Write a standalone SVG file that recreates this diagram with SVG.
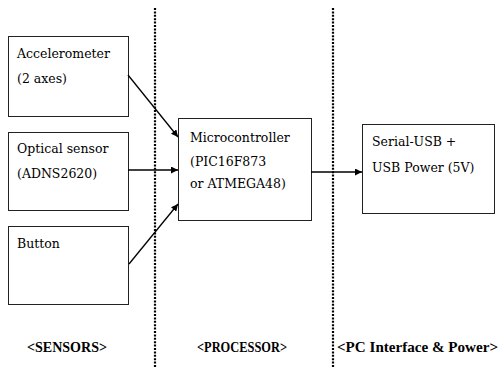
<svg xmlns="http://www.w3.org/2000/svg" width="503" height="367" viewBox="0 0 503 367">
<defs>
<style>
.box{fill:#fff;stroke:#222;stroke-width:1}
.t{font-family:"DejaVu Serif","Liberation Serif",serif;font-size:12.5px;fill:#000}
.lbl{font-family:"Liberation Serif",serif;font-size:14px;font-weight:bold;fill:#000}
.div{stroke:#000;stroke-width:2.2;stroke-dasharray:2 1.4}
.c{stroke:#000;stroke-width:1.3;fill:none;marker-end:url(#ah)}
</style>
<marker id="ah" viewBox="0 0 10 10" refX="10" refY="5" markerWidth="7" markerHeight="7" orient="auto" markerUnits="userSpaceOnUse">
<path d="M0,0 L10,5 L0,10 z" fill="#000"/>
</marker>
</defs>
<rect width="503" height="367" fill="#fff"/>
<g id="dividers">
<line class="div" x1="155" y1="8" x2="155" y2="367"/>
<line class="div" x1="333" y1="8" x2="333" y2="367"/>
</g>
<g id="accelerometer">
<rect class="box" x="8.5" y="36.5" width="120" height="80"/>
<text class="t" x="17" y="58">Accelerometer</text>
<text class="t" x="17" y="83">(2 axes)</text>
</g>
<g id="optical">
<rect class="box" x="8.5" y="132.5" width="120" height="78"/>
<text class="t" x="17" y="153">Optical sensor</text>
<text class="t" x="17" y="178">(ADNS2620)</text>
</g>
<g id="button">
<rect class="box" x="8.5" y="226.5" width="120" height="78"/>
<text class="t" x="17" y="248">Button</text>
</g>
<g id="micro">
<rect class="box" x="178.5" y="118.5" width="133" height="102"/>
<text class="t" x="190" y="142">Microcontroller</text>
<text class="t" x="190" y="166">(PIC16F873</text>
<text class="t" x="190" y="188">or ATMEGA48)</text>
</g>
<g id="serial">
<rect class="box" x="362.5" y="124.5" width="132" height="89"/>
<text class="t" x="372" y="146">Serial-USB +</text>
<text class="t" x="372" y="172">USB Power (5V)</text>
</g>
<g id="connectors">
<line class="c" x1="128" y1="75" x2="178" y2="137"/>
<line class="c" x1="128" y1="170" x2="178" y2="170"/>
<line class="c" x1="129" y1="264" x2="178" y2="204"/>
<line class="c" x1="311" y1="172" x2="362" y2="172"/>
</g>
<g id="labels">
<text class="lbl" x="27" y="352" textLength="80" lengthAdjust="spacingAndGlyphs">&lt;SENSORS&gt;</text>
<text class="lbl" x="197" y="352" textLength="90" lengthAdjust="spacingAndGlyphs">&lt;PROCESSOR&gt;</text>
<text class="lbl" x="337" y="352" textLength="161" lengthAdjust="spacingAndGlyphs">&lt;PC Interface &amp; Power&gt;</text>
</g>
</svg>
